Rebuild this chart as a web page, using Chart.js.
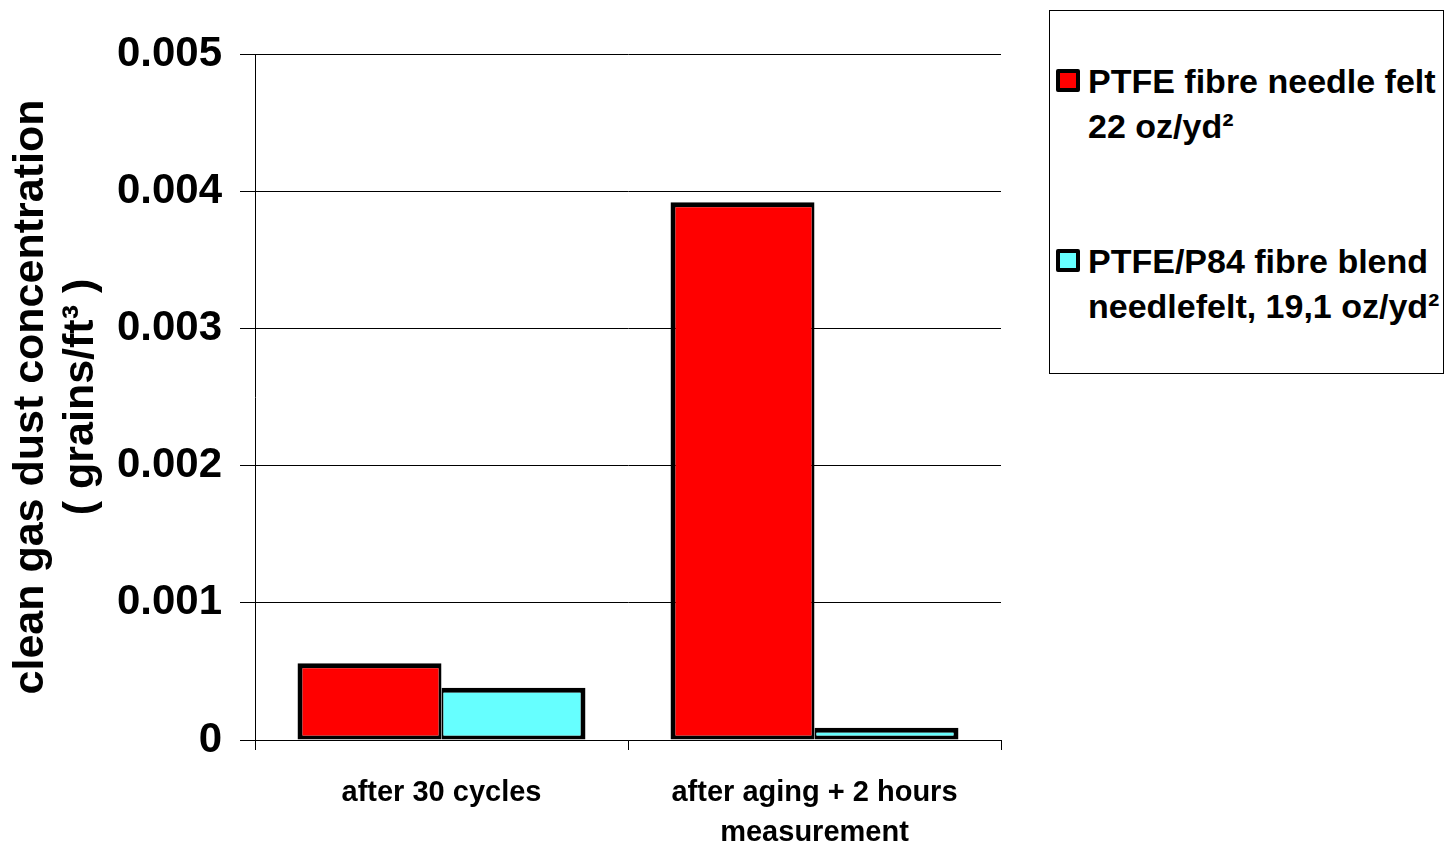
<!DOCTYPE html>
<html>
<head>
<meta charset="utf-8">
<title>Clean gas dust concentration</title>
<script src="https://cdn.jsdelivr.net/npm/chart.js@4.4.1/dist/chart.umd.min.js"></script>
<style>
  body { margin: 0; background: #fff; }
  #wrap { position: relative; width: 1446px; height: 846px; }
  #legend {
    position: absolute; left: 1049px; top: 10px; width: 393px; height: 362px;
    border: 1px solid #000; background: #fff;
    font: bold 34px "Liberation Sans", Arial, sans-serif; color: #000;
  }
  .item { position: absolute; left: 6px; right: 0; }
  .swatch { position: absolute; left: 0; width: 16px; height: 15px; border: 4px solid #000; border-radius: 2px; }
  .text { position: absolute; left: 32px; line-height: 45px; white-space: nowrap; }
</style>
</head>
<body>
<div id="wrap">
  <canvas id="chart" width="1446" height="846"></canvas>
  <div id="legend"></div>
</div>
<script>
const categories = [['after 30 cycles'], ['after aging + 2 hours', 'measurement']];
const seriesNames = [['PTFE fibre needle felt', '22 oz/yd²'], ['PTFE/P84 fibre blend', 'needlefelt, 19,1 oz/yd²']];
const ptfeFelt = [0.00056, 0.00392];
const ptfeP84Blend = [0.00038, 0.00009];
const yTicks = [0, 0.001, 0.002, 0.003, 0.004, 0.005];
const colors = ['#ff0000', '#66ffff'];

const FONT = '"Liberation Sans", Arial, sans-serif';

const chart = new Chart(document.getElementById('chart'), {
  type: 'bar',
  data: {
    labels: categories,
    datasets: [
      {
        label: seriesNames[0].join(' '),
        data: ptfeFelt,
        backgroundColor: colors[0],
        borderColor: '#000',
        borderWidth: { top: 5, left: 5, right: 3, bottom: 4 },
        borderSkipped: false
      },
      {
        label: seriesNames[1].join(' '),
        data: ptfeP84Blend,
        backgroundColor: colors[1],
        borderColor: '#000',
        borderWidth: { top: 5, left: 2, right: 5, bottom: 4 },
        borderSkipped: false
      }
    ]
  },
  options: {
    responsive: false,
    animation: false,
    devicePixelRatio: 1,
    layout: { padding: { top: 54, left: 0, right: 445, bottom: 0 } },
    datasets: { bar: { categoryPercentage: 0.772, barPercentage: 1 } },
    plugins: { legend: { display: false }, tooltip: { enabled: false } },
    scales: {
      x: {
        grid: { offset: true, drawOnChartArea: false, drawTicks: true, tickLength: 10, tickColor: '#000' },
        border: { color: '#000', width: 1 },
        ticks: {
          color: '#000', padding: 23, maxRotation: 0,
          font: { family: FONT, size: 29, weight: 'bold', lineHeight: 1.38 }
        },
        afterFit: s => { s.height = 106; }
      },
      y: {
        min: 0,
        max: 0.005,
        afterBuildTicks: s => { s.ticks = yTicks.map(v => ({ value: v })); },
        grid: { color: '#000', lineWidth: 1, tickLength: 15, tickColor: '#000' },
        border: { color: '#000', width: 1 },
        ticks: {
          color: '#000', padding: 18,
          font: { family: FONT, size: 42, weight: 'bold' },
          callback: v => String(v)
        },
        title: {
          display: true,
          text: ['clean gas dust concentration', '( grains/ft³ )'],
          color: '#000',
          padding: { top: 6, bottom: 0 },
          font: { family: FONT, size: 43, weight: 'bold', lineHeight: 1.17 }
        },
        afterFit: s => { s.width = 255; }
      }
    }
  }
});

// legend box on the right, built from the dataset colours and names
const legend = document.getElementById('legend');
const itemTops = [48, 228];
seriesNames.forEach((lines, i) => {
  const item = document.createElement('div');
  item.className = 'item';
  item.style.top = itemTops[i] + 'px';
  const sw = document.createElement('div');
  sw.className = 'swatch';
  sw.style.top = '10px';
  sw.style.background = chart.data.datasets[i].backgroundColor;
  const tx = document.createElement('div');
  tx.className = 'text';
  tx.innerHTML = lines.join('<br>');
  item.appendChild(sw);
  item.appendChild(tx);
  legend.appendChild(item);
});
</script>
</body>
</html>
